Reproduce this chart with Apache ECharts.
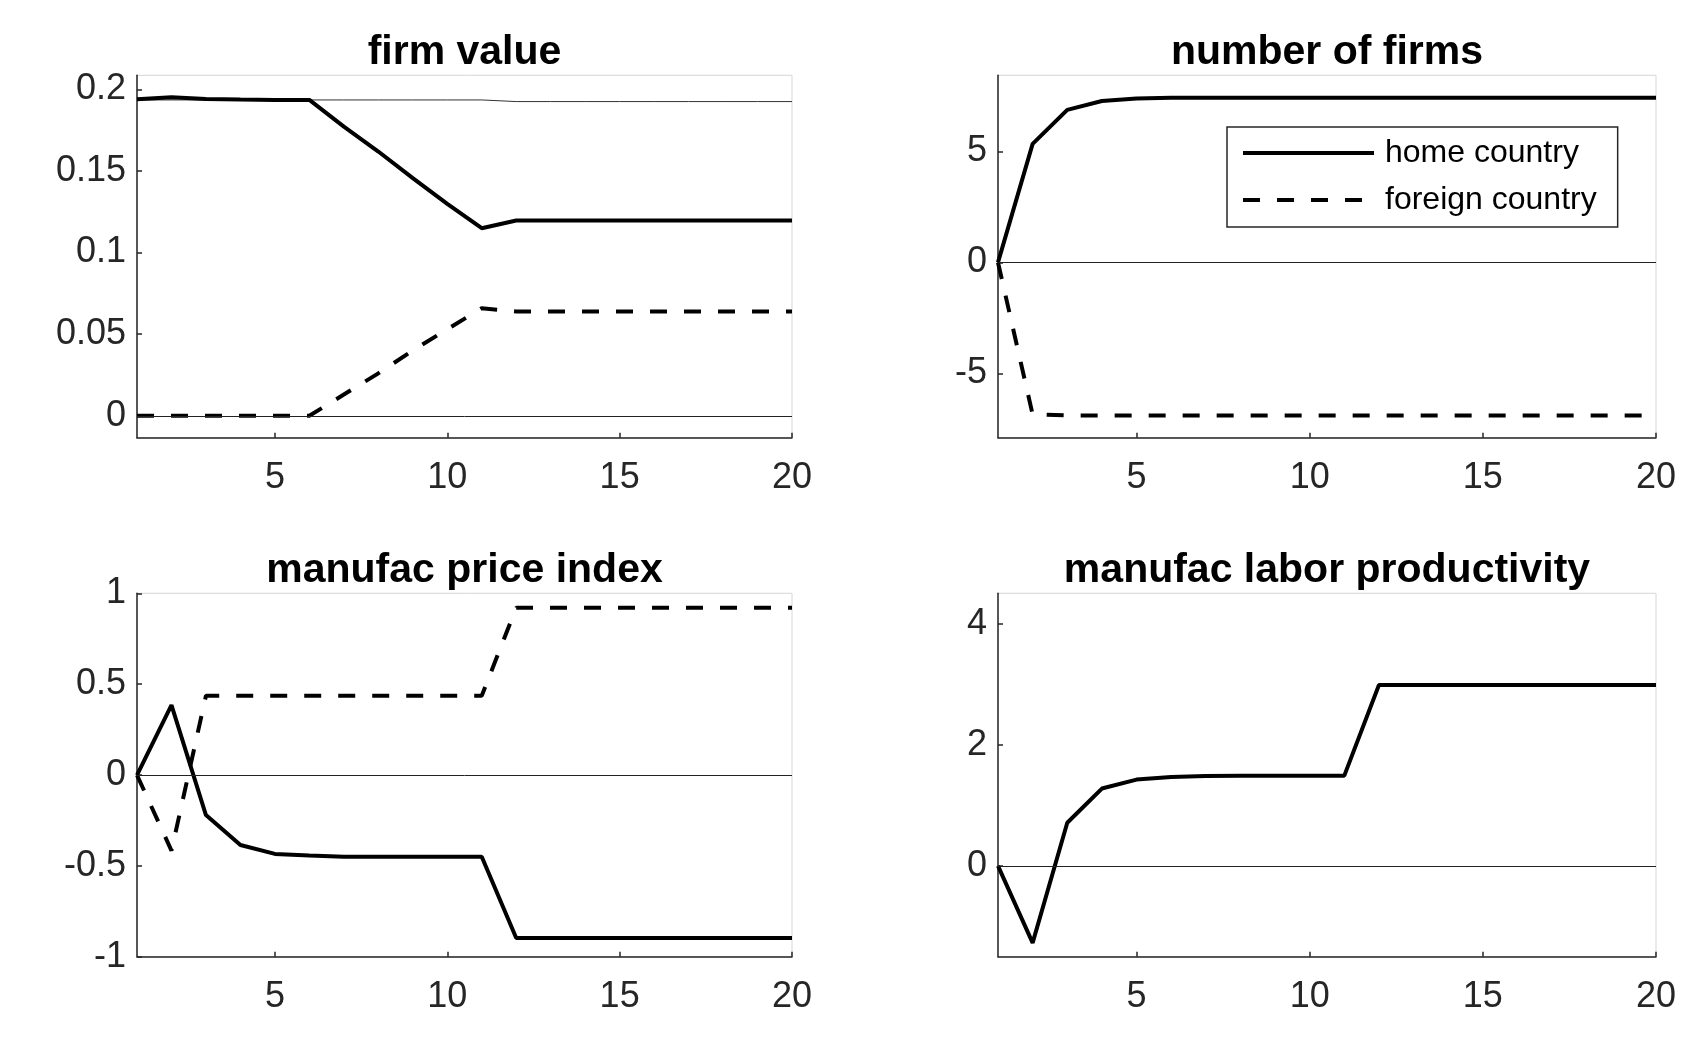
<!DOCTYPE html>
<html lang="en">

<head>
    <meta charset="UTF-8">
    <title>firm responses</title>
    <script src="https://cdn.jsdelivr.net/npm/echarts@6/dist/echarts.min.js"></script>
    <style>
        body { margin: 0; background: #fff; }
    </style>
</head>

<body>
    <div id="main" style="height:1046px; width:1706px"></div>
    <script>
        // periods on the x axis
        var periods = [1, 2, 3, 4, 5, 6, 7, 8, 9, 10, 11, 12, 13, 14, 15, 16, 17, 18, 19, 20]
        var xTicks = [5, 10, 15, 20]

        // firm value
        var fvHome = [0.1939, 0.1951, 0.1941, 0.1937, 0.1935, 0.1935, 0.1772, 0.1619, 0.1456, 0.1298, 0.1149, 0.1196, 0.1196, 0.1196, 0.1196, 0.1196, 0.1196, 0.1196, 0.1196, 0.1196]
        var fvForeign = [0, 0, 0, 0, 0, 0, 0.013, 0.026, 0.040, 0.053, 0.0659, 0.0639, 0.0639, 0.0639, 0.0639, 0.0639, 0.0639, 0.0639, 0.0639, 0.0639]
        var fvBase = [0.1935, 0.1935, 0.1935, 0.1935, 0.1935, 0.1935, 0.1935, 0.1935, 0.1935, 0.1935, 0.1935, 0.1925, 0.1925, 0.1925, 0.1925, 0.1925, 0.1925, 0.1925, 0.1925, 0.1925]
        var fvTicks = [0, 0.05, 0.1, 0.15, 0.2]

        // number of firms
        var nfHome = [0, 5.34, 6.87, 7.27, 7.39, 7.42, 7.42, 7.42, 7.42, 7.42, 7.42, 7.42, 7.42, 7.42, 7.42, 7.42, 7.42, 7.42, 7.42, 7.42]
        var nfForeign = [0, -6.85, -6.89, -6.89, -6.89, -6.89, -6.89, -6.89, -6.89, -6.89, -6.89, -6.89, -6.89, -6.89, -6.89, -6.89, -6.89, -6.89, -6.89, -6.89]
        var nfTicks = [-5, 0, 5]

        // manufac price index
        var piHome = [0, 0.385, -0.22, -0.385, -0.434, -0.443, -0.449, -0.449, -0.449, -0.449, -0.449, -0.897, -0.897, -0.897, -0.897, -0.897, -0.897, -0.897, -0.897, -0.897]
        var piForeign = [0, -0.416, 0.436, 0.436, 0.436, 0.436, 0.436, 0.436, 0.436, 0.436, 0.436, 0.921, 0.921, 0.921, 0.921, 0.921, 0.921, 0.921, 0.921, 0.921]
        var piTicks = [-1, -0.5, 0, 0.5, 1]

        // manufac labor productivity
        var lpHome = [0, -1.27, 0.712, 1.277, 1.425, 1.468, 1.485, 1.49, 1.49, 1.49, 1.49, 2.986, 2.986, 2.986, 2.986, 2.986, 2.986, 2.986, 2.986, 2.986]
        var lpTicks = [0, 2, 4]

        var titles = ['firm value', 'number of firms', 'manufac price index', 'manufac labor productivity']
        var font = 'Liberation Sans, Arial, Helvetica, sans-serif'
        var axisColor = '#262626'

        var grids = [
            { left: 137, top: 75.3, width: 655, height: 362.5 },
            { left: 998, top: 75.3, width: 658, height: 362.5 },
            { left: 137, top: 593.3, width: 655, height: 363.5 },
            { left: 998, top: 593.3, width: 658, height: 363.5 }
        ]
        var yRanges = [[-0.0135, 0.2086], [-7.9, 8.43], [-1, 1], [-1.5, 4.5]]
        var yTicks = [fvTicks, nfTicks, piTicks, lpTicks]

        function pairs(arr) {
            var out = []
            for (var i = 0; i < periods.length; i++) {
                out.push([periods[i], arr[i]])
            }
            return out
        }

        var zeroLine = {
            silent: true,
            symbol: 'none',
            label: { show: false },
            lineStyle: { color: '#222', width: 1, type: 'solid' },
            data: [{ yAxis: 0 }]
        }

        function lineSeries(name, arr, idx, dashed, thin) {
            return {
                name: name,
                type: 'line',
                xAxisIndex: idx,
                yAxisIndex: idx,
                data: pairs(arr),
                symbol: 'none',
                showSymbol: false,
                lineStyle: {
                    color: thin ? '#333' : '#000',
                    width: thin ? 1 : 4,
                    type: dashed ? [17, 17] : 'solid'
                },
                itemStyle: { color: '#000' },
                z: thin ? 1 : 3
            }
        }

        var xAxes = []
        var yAxes = []
        var titleList = []
        for (var i = 0; i < 4; i++) {
            var g = grids[i]
            g.show = true
            g.borderColor = '#d6d6d6'
            g.borderWidth = 1
            g.outerBoundsMode = 'none'
            xAxes.push({
                type: 'value', gridIndex: i, min: 1, max: 20,
                axisLine: { show: true, onZero: false, lineStyle: { color: axisColor, width: 1.5 } },
                axisTick: { show: true, inside: true, length: 5, customValues: xTicks, lineStyle: { color: axisColor, width: 1.5 } },
                axisLabel: { customValues: xTicks, fontSize: 36, fontFamily: font, color: axisColor, margin: 22 },
                splitLine: { show: false }
            })
            yAxes.push({
                type: 'value', gridIndex: i, min: yRanges[i][0], max: yRanges[i][1],
                axisLine: { show: true, onZero: false, lineStyle: { color: axisColor, width: 1.5 } },
                axisTick: { show: true, inside: true, length: 5, customValues: yTicks[i], lineStyle: { color: axisColor, width: 1.5 } },
                axisLabel: { customValues: yTicks[i], fontSize: 36, fontFamily: font, color: axisColor, margin: 11,
                    formatter: function(v) { return String(v) } },
                splitLine: { show: false }
            })
            titleList.push({
                text: titles[i],
                left: g.left + g.width / 2,
                top: i < 2 ? 32 : 550,
                textAlign: 'center',
                padding: 0,
                textStyle: { fontSize: 41, fontWeight: 'bold', fontFamily: font, color: '#000' }
            })
        }

        var s0 = lineSeries('home country', fvHome, 0, false, false)
        s0.markLine = zeroLine
        var s2 = lineSeries('home country', nfHome, 1, false, false)
        s2.markLine = zeroLine
        var s4 = lineSeries('home country', piHome, 2, false, false)
        s4.markLine = zeroLine
        var s6 = lineSeries('home country', lpHome, 3, false, false)
        s6.markLine = zeroLine

        var series = [
            lineSeries('base', fvBase, 0, false, true),
            s0,
            lineSeries('foreign country', fvForeign, 0, true, false),
            s2,
            lineSeries('foreign country', nfForeign, 1, true, false),
            s4,
            lineSeries('foreign country', piForeign, 2, true, false),
            s6
        ]

        var myCharts = echarts.init(document.getElementById('main'))
        myCharts.setOption({
            animation: false,
            backgroundColor: '#fff',
            title: titleList,
            legend: {
                data: ['home country', 'foreign country'],
                orient: 'vertical',
                left: 1227,
                top: 127,
                padding: [10, 21, 11, 14],
                itemWidth: 131,
                itemHeight: 32,
                itemGap: 15,
                selectedMode: false,
                borderColor: axisColor,
                borderWidth: 1.5,
                backgroundColor: '#fff',
                itemStyle: { opacity: 0 },
                lineStyle: { width: 4, color: '#000' },
                textStyle: { fontSize: 32, fontFamily: font, color: '#000', padding: [0, 0, 0, 6] }
            },
            grid: grids,
            xAxis: xAxes,
            yAxis: yAxes,
            series: series
        })
    </script>
</body>

</html>
